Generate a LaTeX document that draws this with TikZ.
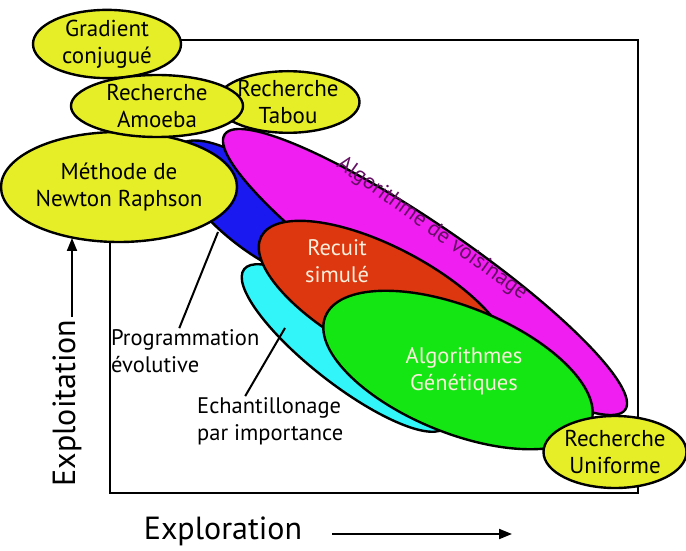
\documentclass[tikz,border=0pt]{standalone}
\usepackage{fontspec}
\setmainfont{PT Sans}
\usetikzlibrary{shapes.geometric,arrows.meta}
\definecolor{ylw}{RGB}{230,238,40}
\definecolor{blu}{RGB}{25,25,240}
\definecolor{mag}{RGB}{240,30,240}
\definecolor{rd}{RGB}{220,55,15}
\definecolor{cyn}{RGB}{50,245,250}
\definecolor{grn}{RGB}{20,230,20}
\definecolor{purp}{RGB}{100,15,100}
\definecolor{cream}{RGB}{250,238,220}
\tikzset{
  blob/.style={ellipse,draw=black,line width=2.4pt,inner sep=0pt},
  yblob/.style={blob,fill=ylw,align=center,font=\fontsize{23}{27}\selectfont},
  lbl/.style={align=left,font=\fontsize{22.5}{27}\selectfont,inner sep=1pt},
  wtxt/.style={align=center,text=cream,font=\fontsize{22.5}{27}\selectfont},
  axlbl/.style={font=\fontsize{32}{36}\selectfont,inner sep=0pt},
  conn/.style={line width=2pt},
  axarrow/.style={line width=2pt,-{Triangle[length=13pt,width=10pt]}}
}
\begin{document}
\begin{tikzpicture}[x=1pt,y=1pt]
\useasboundingbox (0,0) rectangle (686,550);
% frame
\draw[line width=2.5pt] (110,57) rectangle (638,510);
% coloured regions
\node[blob,fill=blu,minimum width=200pt,minimum height=76pt,rotate=-39] (blue) at (255,340) {};
\node[blob,fill=cyn,minimum width=256pt,minimum height=72pt,rotate=-38] (cyan) at (345,202) {};
\node[blob,fill=mag,minimum width=486pt,minimum height=94pt,rotate=-34.5] (mag) at (425,278) {};
\node[blob,fill=rd,minimum width=280pt,minimum height=108pt,rotate=-28] (red) at (385,248) {};
\node[blob,fill=grn,minimum width=286pt,minimum height=126pt,rotate=-22] (green) at (458,180) {};
% texts in regions
\node[rotate=-35.7,text=purp,font=\fontsize{22}{26}\selectfont,inner sep=0pt] (magtxt) at (432,321) {Algorithme de voisinage};
\node[wtxt] (redtxt) at (337,289) {Recuit\\simulé};
\node[wtxt] (grntxt) at (464,179) {Algorithmes\\Génétiques};
% yellow ellipses
\node[yblob,minimum width=216pt,minimum height=110pt] (newton) at (119,363) {Méthode de\\Newton Raphson};
\node[yblob,minimum width=148pt,minimum height=64pt] (grad) at (107,506) {Gradient\\conjugué};
\node[yblob,minimum width=136pt,minimum height=60pt] (tabou) at (288,448) {Recherche\\Tabou};
\node[yblob,minimum width=172pt,minimum height=62pt] (amoeba) at (157,444) {Recherche\\Amoeba};
\node[yblob,minimum width=136pt,minimum height=72pt] (unif) at (615,98) {Recherche\\Uniforme};
% side labels
\node[lbl,anchor=west] (prog) at (110,199) {Programmation\\évolutive};
\node[lbl,anchor=west] (ech) at (196,129) {Echantillonage\\par importance};
\coordinate (pe) at (218,318);
\coordinate (ce) at (285,222);
\draw[conn] (pe) -- ([xshift=-6pt]prog.north);
\draw[conn] (ce) -- ([xshift=-25pt]ech.north);
% axes
\node[axlbl] (explo) at (223,19) {Exploration};
\coordinate (exa) at (332,16);
\coordinate (exb) at (512,16);
\draw[axarrow] (exa) -- (exb);
\node[axlbl,rotate=90] (exploit) at (67,147) {Exploitation};
\coordinate (eya) at (72,233);
\coordinate (eyb) at (72,312);
\draw[axarrow] (eya) -- (eyb);
\end{tikzpicture}
\end{document}
